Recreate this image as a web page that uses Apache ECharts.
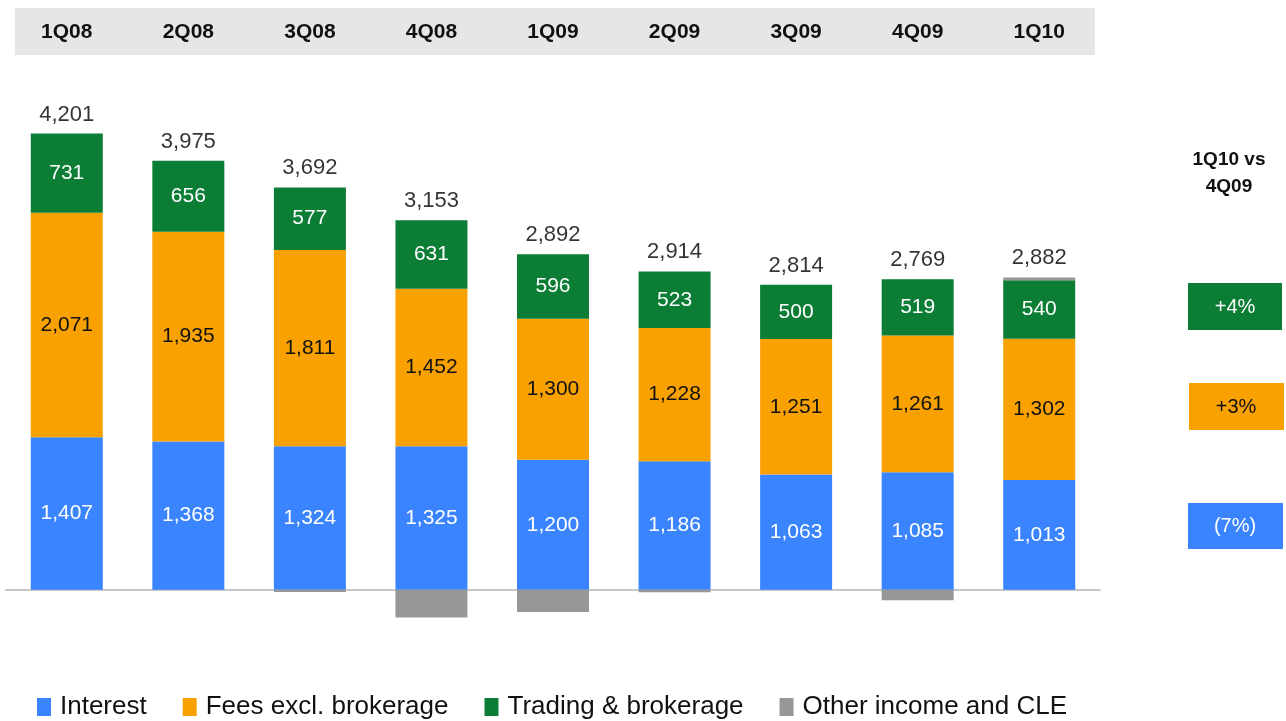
<!DOCTYPE html>
<html>
<head>
<meta charset="utf-8">
<script src="https://cdn.jsdelivr.net/npm/echarts@6/dist/echarts.min.js"></script>
<style>
  html, body { margin: 0; padding: 0; background: #fff; }
  #main { width: 1286px; height: 721px; }
</style>
</head>
<body>
<div id="main"></div>
<script>
  // quarters and revenue split
  var quarters = ['1Q08', '2Q08', '3Q08', '4Q08', '1Q09', '2Q09', '3Q09', '4Q09', '1Q10'];
  var interest = [1407, 1368, 1324, 1325, 1200, 1186, 1063, 1085, 1013];
  var fees = [2071, 1935, 1811, 1452, 1300, 1228, 1251, 1261, 1302];
  var trading = [731, 656, 577, 631, 596, 523, 500, 519, 540];
  var other = [0, 0, -20, -255, -204, -23, 0, -96, 27];
  var totals = [4201, 3975, 3692, 3153, 2892, 2914, 2814, 2769, 2882];

  // 1Q10 vs 4Q09 change boxes (trading, fees, interest)
  var changeLabels = ['+4%', '+3%', '(7%)'];

  var FONT = '"Liberation Sans", Arial, sans-serif';
  var C_BLUE = '#3a85ff', C_ORANGE = '#f8a100', C_GREEN = '#0b7d35', C_GRAY = '#979797';

  function fmt(v) {
    return v.toLocaleString('en-US');
  }

  // top of positive stack, used to put the total above each bar
  var topPos = quarters.map(function (q, i) {
    return interest[i] + fees[i] + trading[i] + Math.max(other[i], 0);
  });

  var chart = echarts.init(document.getElementById('main'));

  function barSeries(name, data, color, labelColor, showLabel) {
    return {
      name: name,
      type: 'bar',
      stack: 'rev',
      barWidth: 72,
      data: data,
      itemStyle: { color: color },
      label: {
        show: showLabel,
        position: 'inside',
        color: labelColor,
        fontFamily: FONT,
        fontSize: 21,
        formatter: function (p) { return fmt(p.value); }
      },
      emphasis: { disabled: true }
    };
  }

  var option = {
    animation: false,
    textStyle: { fontFamily: FONT },
    grid: { left: 6, right: 186, top: 102, bottom: 77 },
    legend: {
      left: 32,
      top: 689,
      itemWidth: 14,
      itemHeight: 18,
      itemGap: 36,
      icon: 'rect',
      textStyle: { fontSize: 26, color: '#111', fontFamily: FONT, padding: [0, 0, 0, 4] },
      data: ['Interest', 'Fees excl. brokerage', 'Trading & brokerage', 'Other income and CLE']
    },
    graphic: [
      { type: 'rect', z: -10, shape: { x: 15, y: 8, width: 1080, height: 47 }, style: { fill: '#e6e6e6' } },
      { type: 'text', x: 1229, y: 160, style: { text: '1Q10 vs', fill: '#111', font: 'bold 19px "Liberation Sans", Arial', align: 'center', verticalAlign: 'middle' } },
      { type: 'text', x: 1229, y: 187, style: { text: '4Q09', fill: '#111', font: 'bold 19px "Liberation Sans", Arial', align: 'center', verticalAlign: 'middle' } },
      { type: 'rect', shape: { x: 1188, y: 283, width: 94, height: 47 }, style: { fill: C_GREEN } },
      { type: 'text', x: 1235, y: 307, style: { text: changeLabels[0], fill: '#fff', font: '20px "Liberation Sans", Arial', align: 'center', verticalAlign: 'middle' } },
      { type: 'rect', shape: { x: 1189, y: 383, width: 95, height: 47 }, style: { fill: C_ORANGE } },
      { type: 'text', x: 1236, y: 407, style: { text: changeLabels[1], fill: '#111', font: '20px "Liberation Sans", Arial', align: 'center', verticalAlign: 'middle' } },
      { type: 'rect', shape: { x: 1188, y: 503, width: 95, height: 46 }, style: { fill: C_BLUE } },
      { type: 'text', x: 1235, y: 526, style: { text: changeLabels[2], fill: '#fff', font: '20px "Liberation Sans", Arial', align: 'center', verticalAlign: 'middle' } }
    ],
    xAxis: [
      {
        type: 'category',
        data: quarters,
        axisLine: { onZero: true, lineStyle: { color: '#c8c8c8', width: 2 } },
        axisTick: { show: false },
        axisLabel: { show: false }
      },
      {
        type: 'category',
        position: 'top',
        data: quarters,
        axisLine: { show: false },
        axisTick: { show: false },
        axisLabel: { margin: 59, fontSize: 21, fontWeight: 'bold', color: '#111', fontFamily: FONT }
      }
    ],
    yAxis: {
      type: 'value',
      min: -500,
      max: 4500,
      show: false,
      splitLine: { show: false }
    },
    series: [
      barSeries('Interest', interest, C_BLUE, '#fff', true),
      barSeries('Fees excl. brokerage', fees, C_ORANGE, '#111', true),
      barSeries('Trading & brokerage', trading, C_GREEN, '#fff', true),
      barSeries('Other income and CLE', other, C_GRAY, '#111', false),
      {
        name: 'Total',
        type: 'scatter',
        symbolSize: 0,
        data: topPos,
        label: {
          show: true,
          position: 'top',
          distance: 8,
          color: '#000',
          fontSize: 22,
          fontFamily: FONT,
          formatter: function (p) { return fmt(totals[p.dataIndex]); }
        },
        emphasis: { disabled: true }
      }
    ]
  };

  option && chart.setOption(option);
</script>
</body>
</html>
